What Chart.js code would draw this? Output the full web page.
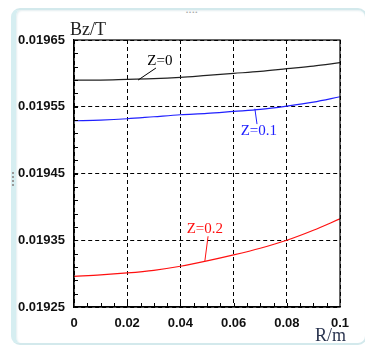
<!DOCTYPE html>
<html>
<head>
<meta charset="utf-8">
<script src="https://cdn.jsdelivr.net/npm/chart.js@4/dist/chart.umd.min.js"></script>
<style>
  html, body { margin: 0; padding: 0; background: #fff; }
  .wrap { position: relative; width: 365px; height: 348px; overflow: hidden; }
  .frame {
    position: absolute; left: 11px; top: 8px; width: 349px; height: 333px;
    border: 2px solid #d3e9ec; border-left: 5px solid #d6eef1; border-radius: 9px;
    box-shadow: inset 1px 1px 2px #e4eef0;
  }
  .dots-top { position: absolute; left: 186px; top: 9px; font: 6px sans-serif; color: #aaa; letter-spacing: 1px; }
  .dots-left { position: absolute; left: 12px; top: 172px; width: 2px; height: 14px; border-left: 2px dotted #999; }
  canvas { position: absolute; left: 0; top: 0; }
</style>
</head>
<body>
<div class="wrap">
  <div class="frame"></div>
  <div class="dots-top">••••</div>
  <div class="dots-left"></div>
  <canvas id="chart" width="365" height="348"></canvas>
</div>
<script>
// R / m
const radius = [0, 0.01, 0.02, 0.03, 0.04, 0.05, 0.06, 0.07, 0.08, 0.09, 0.1];
// Bz / T for each Z
const bzZ0 = [0.019590, 0.019590, 0.019591, 0.019592, 0.019594, 0.019597, 0.019600, 0.019603, 0.019607, 0.019611, 0.019616];
const bzZ01 = [0.019529, 0.019530, 0.019532, 0.019535, 0.019538, 0.019540, 0.019543, 0.019546, 0.019551, 0.019557, 0.019565];
const bzZ02 = [0.019296, 0.019298, 0.019301, 0.019305, 0.019311, 0.019319, 0.019328, 0.019338, 0.019350, 0.019365, 0.019382];

const xTicks = [0, 0.02, 0.04, 0.06, 0.08, 0.1];
const xTickLabels = ["0", "0.02", "0.04", "0.06", "0.08", "0.1"];
const yTicks = [0.01925, 0.01935, 0.01945, 0.01955, 0.01965];
const yTickLabels = ["0.01925", "0.01935", "0.01945", "0.01955", "0.01965"];

// curve labels: text, colour, text centre, leader start, leader end (data coords)
const curveLabels = [
  { text: "Z=0", color: "#000", at: [0.0323, 0.019619], from: [0.0308, 0.019608], to: [0.0241, 0.019590] },
  { text: "Z=0.1", color: "#2020ff", at: [0.0695, 0.019514], from: [0.0680, 0.019547], to: [0.0688, 0.019524] },
  { text: "Z=0.2", color: "#ff1010", at: [0.0492, 0.019367], from: [0.0504, 0.019356], to: [0.0492, 0.019319] }
];

const toPts = (ys) => radius.map((r, i) => ({ x: r, y: ys[i] }));

const decorations = {
  id: "decorations",
  afterDatasetsDraw(chart) {
    const { ctx, chartArea: a, scales: { x, y } } = chart;
    ctx.save();
    // minor ticks, inside
    ctx.strokeStyle = "#000";
    ctx.lineWidth = 1;
    ctx.beginPath();
    for (let i = 1; i < 20; i++) {
      const py = Math.round(y.getPixelForValue(0.01925 + i * 0.00002)) + 0.5;
      ctx.moveTo(a.left, py); ctx.lineTo(a.left + 4, py);
    }
    for (let i = 1; i < 20; i++) {
      const px = Math.round(x.getPixelForValue(i * 0.005)) + 0.5;
      ctx.moveTo(px, a.bottom); ctx.lineTo(px, a.bottom - 4);
    }
    ctx.stroke();
    // frame
    ctx.lineWidth = 1.2;
    ctx.strokeRect(a.left, a.top, a.right - a.left, a.bottom - a.top);

    // curve labels
    ctx.font = "15px 'Liberation Serif', 'DejaVu Serif', serif";
    ctx.textAlign = "center";
    ctx.textBaseline = "middle";
    curveLabels.forEach((c) => {
      ctx.strokeStyle = c.color;
      ctx.fillStyle = c.color;
      ctx.lineWidth = 1;
      ctx.beginPath();
      ctx.moveTo(x.getPixelForValue(c.from[0]), y.getPixelForValue(c.from[1]));
      ctx.lineTo(x.getPixelForValue(c.to[0]), y.getPixelForValue(c.to[1]));
      ctx.stroke();
      ctx.fillText(c.text, x.getPixelForValue(c.at[0]), y.getPixelForValue(c.at[1]));
    });

    // axis names
    ctx.fillStyle = "#222";
    ctx.font = "18px 'Liberation Serif', 'DejaVu Serif', serif";
    ctx.textAlign = "left";
    ctx.textBaseline = "alphabetic";
    ctx.fillText("Bz/T", a.left - 4, a.top - 5);
    ctx.fillStyle = "#2b3550";
    ctx.textAlign = "right";
    ctx.fillText("R/m", a.right + 6, a.bottom + 34);
    ctx.restore();
  }
};

new Chart(document.getElementById("chart"), {
  type: "line",
  data: {
    datasets: [
      { label: "Z=0", data: toPts(bzZ0), borderColor: "#222", borderWidth: 1.2 },
      { label: "Z=0.1", data: toPts(bzZ01), borderColor: "#2020ff", borderWidth: 1.2 },
      { label: "Z=0.2", data: toPts(bzZ02), borderColor: "#ff1010", borderWidth: 1.2 }
    ]
  },
  plugins: [decorations],
  options: {
    responsive: false,
    animation: false,
    elements: { point: { radius: 0 }, line: { tension: 0.3, cubicInterpolationMode: "monotone" } },
    layout: { padding: { top: 40, right: 25, left: 0, bottom: 0 } },
    plugins: { legend: { display: false }, tooltip: { enabled: false } },
    scales: {
      x: {
        type: "linear",
        min: 0,
        max: 0.1,
        afterFit: (s) => { s.height = 41; },
        afterBuildTicks: (s) => { s.ticks = xTicks.map((v) => ({ value: v })); },
        grid: { color: "#000", lineWidth: 1, drawTicks: false },
        border: { color: "#000", width: 1.2, dash: [4, 3] },
        ticks: {
          padding: 9,
          color: "#111",
          maxRotation: 0,
          font: { family: "'Liberation Sans', Arial, sans-serif", size: 13, weight: "bold" },
          callback: (v) => xTickLabels[xTicks.indexOf(v)]
        }
      },
      y: {
        type: "linear",
        min: 0.01925,
        max: 0.01965,
        afterFit: (s) => { s.width = 74; },
        afterBuildTicks: (s) => { s.ticks = yTicks.map((v) => ({ value: v })); },
        grid: { color: "#000", lineWidth: 1, drawTicks: false },
        border: { color: "#000", width: 1.2, dash: [4, 3] },
        ticks: {
          padding: 9,
          color: "#111",
          font: { family: "'Liberation Sans', Arial, sans-serif", size: 13, weight: "bold" },
          callback: (v) => yTickLabels[yTicks.indexOf(v)]
        }
      }
    }
  }
});
</script>
</body>
</html>
